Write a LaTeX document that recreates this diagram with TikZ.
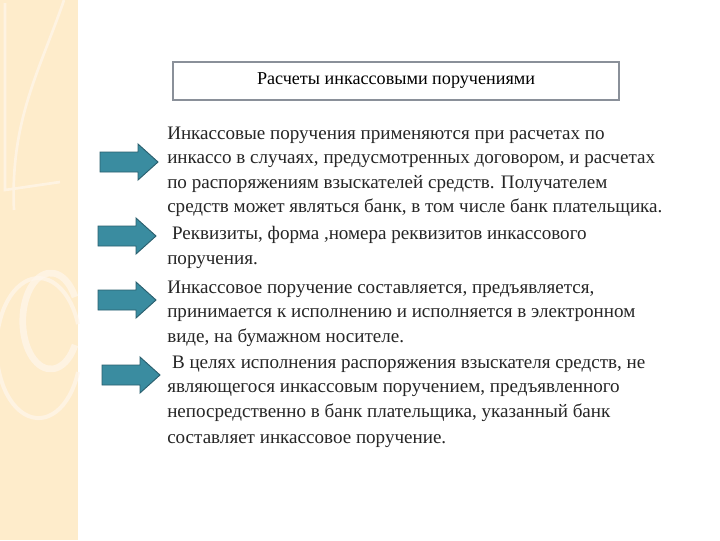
\documentclass[tikz,border=0pt]{standalone}
\usepackage{fontspec}
\setmainfont{Liberation Serif}
\definecolor{arrfill}{HTML}{3A8CA0}
\definecolor{arrline}{HTML}{2A5F6E}
\definecolor{boxline}{HTML}{8A9099}
\begin{document}
\begin{tikzpicture}[x=0.75pt,y=-0.75pt,
  ln/.style={anchor=base west,inner sep=0,font=\fontsize{14.3}{16}\selectfont,text=black!85},
  arr/.style={draw=arrline,fill=arrfill,line width=0.7pt},
  pics/fatarrow/.style={code={\path[arr] (-29,-10) -- (9,-10) -- (9,-18) -- (29,0) -- (9,18) -- (9,10) -- (-29,10) -- cycle;}}]
\useasboundingbox (0,0) rectangle (720,540);
\fill[white] (0,0) rectangle (720,540);
\fill[yellow!25!orange!18] (0,0) rectangle (78,540);
\draw[white!75!orange!30, line width=2pt, opacity=0.7] (5,3) -- (5,190) -- (60,182) (64,0) .. controls (40,70) and (10,120) .. (14,210);
\draw[white!75!orange!30, line width=5pt, opacity=0.7] (75,345) arc (30:330:28 and 48);
\draw[white!75!orange!30, line width=3pt, opacity=0.7] (78,372) arc (20:340:42 and 70);
\node[draw=boxline,line width=1.5pt,minimum width=334pt,minimum height=29pt,inner sep=0,font=\fontsize{13.6}{15}\selectfont] (t) at (396,81) {Расчеты инкассовыми поручениями};
\pic (a1) at (129,162) {fatarrow};
\pic (a2) at (127,236) {fatarrow};
\pic (a3) at (127,300) {fatarrow};
\pic (a4) at (131,375) {fatarrow};
\node[ln] (l1) at (167,139) {Инкассовые поручения применяются при расчетах по};
\node[ln] (l2) at (167,163) {инкассо в случаях, предусмотренных договором, и расчетах};
\node[ln] (l3) at (167,188) {по распоряжениям взыскателей средств. Получателем};
\node[ln] (l4) at (167,212) {средств может являться банк, в том числе банк плательщика.};
\node[ln] (l5) at (167,239) {\ Реквизиты, форма ,номера реквизитов инкассового};
\node[ln] (l6) at (167,264) {поручения.};
\node[ln] (l7) at (167,293) {Инкассовое поручение составляется, предъявляется,};
\node[ln] (l8) at (167,317) {принимается к исполнению и исполняется в электронном};
\node[ln] (l9) at (167,342) {виде, на бумажном носителе.};
\node[ln] (l10) at (167,368) {\ В целях исполнения распоряжения взыскателя средств, не};
\node[ln] (l11) at (167,392) {являющегося инкассовым поручением, предъявленного};
\node[ln] (l12) at (167,417) {непосредственно в банк плательщика, указанный банк};
\node[ln] (l13) at (167,443) {составляет инкассовое поручение.};
\end{tikzpicture}
\end{document}
